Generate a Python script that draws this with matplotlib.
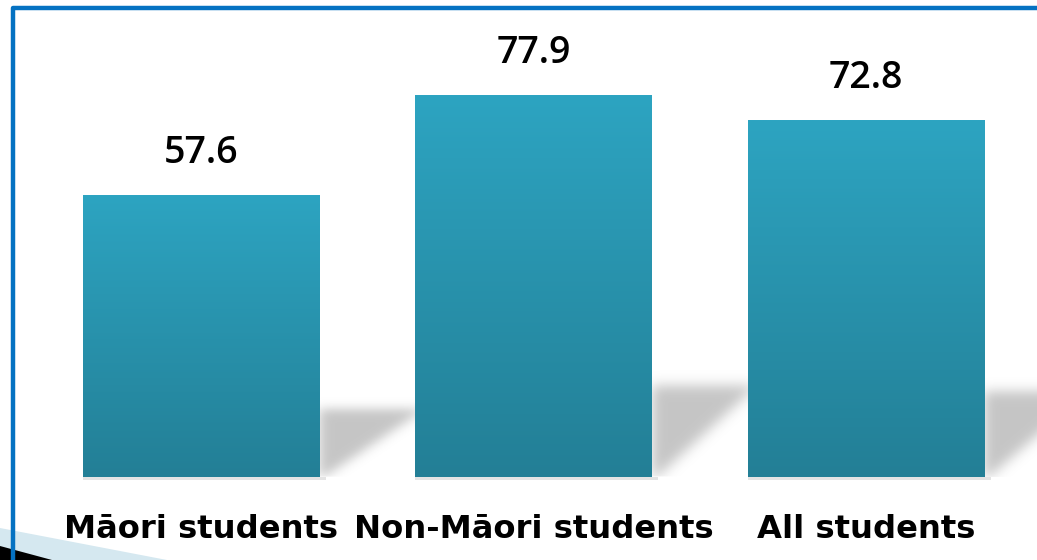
import matplotlib
matplotlib.use('Agg')
import matplotlib.pyplot as plt
import numpy as np
from matplotlib.lines import Line2D
from matplotlib.patches import Polygon
from matplotlib.colors import LinearSegmentedColormap

# data
categories = ['Māori students', 'Non-Māori students', 'All students']
values = [57.6, 77.9, 72.8]

W, H = 1037, 560
fig = plt.figure(figsize=(W / 100, H / 100), dpi=100)
ax = fig.add_axes([0, 0, 1, 1])
ax.set_xlim(-0.6045, 2.514)
ax.set_ylim(-16.97, 97.5)
ax.axis('off')

x = np.arange(len(categories))
bars = ax.bar(x, values, width=0.71, color='none', zorder=3)

grad = LinearSegmentedColormap.from_list('bar', ['#237f96', '#2da4c1'])

def blur(a, s):
    k = np.arange(-3 * s, 3 * s + 1)
    g = np.exp(-k ** 2 / (2.0 * s * s))
    g /= g.sum()
    a = np.apply_along_axis(lambda r: np.convolve(r, g, mode='same'), 1, a)
    a = np.apply_along_axis(lambda c: np.convolve(c, g, mode='same'), 0, a)
    return a

px_x = 332.5  # pixels per x unit
px_y = 4.89   # pixels per y unit

for b, v in zip(bars, values):
    x0, w, h = b.get_x(), b.get_width(), b.get_height()
    x1 = x0 + w
    # gradient fill
    g = np.linspace(1, 0, 200).reshape(-1, 1)
    ax.imshow(g, cmap=grad, aspect='auto', extent=[x0, x1, 0, h], zorder=3)
    # soft shadow behind the bar
    sw = 100 / px_x
    sh = h * 0.24
    nx, ny = 160, 120
    xs = np.linspace(x1 - 20 / px_x, x1 + sw + 40 / px_x, nx)
    ys = np.linspace(-10 / px_y, sh + 25 / px_y, ny)
    X, Y = np.meshgrid(xs, ys)
    m = ((X >= x1) & (Y <= sh) & (Y >= 0) & ((X - x1) / sw <= Y / sh + 0.05)).astype(float)
    m = blur(m, 6)
    m[Y < 0] = 0
    rgba = np.zeros((ny, nx, 4))
    rgba[..., :3] = 0.55
    rgba[..., 3] = m * 0.5
    ax.imshow(rgba, origin='lower', aspect='auto',
              extent=[xs[0], xs[-1], ys[0], ys[-1]], zorder=2, interpolation='bilinear')
    # thin reflection under the bar
    ax.fill_between([x0, x1 + 0.02], -0.6, 0, color='#e4e4e4', lw=0, zorder=2)
    ax.text(b.get_x() + w / 2, h + 4.8, f'{v:.1f}', ha='center', va='bottom',
            fontsize=27, family='Open Sans', fontweight='semibold', color='black')

for xi, c in zip(x, categories):
    ax.text(xi, -10.7, c, ha='center', va='center', fontsize=23.2, family='DejaVu Sans',
            fontweight='bold', color='black')

def fx(p):
    return p / W

def fy(p):
    return 1 - p / H

# corner decoration
fig.patches.append(Polygon([(fx(0), fy(528)), (fx(167), fy(560)), (fx(0), fy(560))],
                           closed=True, transform=fig.transFigure, color='#d5e8f0', lw=0))
fig.patches.append(Polygon([(fx(0), fy(546)), (fx(52), fy(560)), (fx(0), fy(560))],
                           closed=True, transform=fig.transFigure, color='black', lw=0))

# blue frame
fig.add_artist(Line2D([fx(13), fx(13), fx(1040)], [fy(565), fy(8), fy(8)],
                      transform=fig.transFigure, color='#0572c2', lw=3.2,
                      solid_joinstyle='round'))

fig.savefig('out.png', dpi=100)
